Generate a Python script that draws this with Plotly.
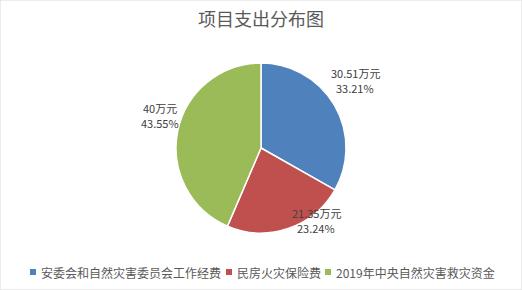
import plotly.graph_objects as go

categories = ["安委会和自然灾害委员会工作经费", "民房火灾保险费", "2019年中央自然灾害救灾资金"]
values = [30.51, 21.35, 40]
value_labels = ["30.51万元", "21.35万元", "40万元"]
percent_labels = ["33.21%", "23.24%", "43.55%"]
colors = ["#4F81BD", "#C0504D", "#9BBB59"]

W, H = 522, 290
font_family = "Noto Sans CJK SC, Microsoft YaHei, sans-serif"

fig = go.Figure(go.Pie(
    labels=categories,
    values=values,
    sort=False,
    direction="clockwise",
    rotation=0,
    marker=dict(colors=colors, line=dict(color="white", width=1.5)),
    textinfo="none",
    hoverinfo="label+value+percent",
    showlegend=False,
    domain=dict(x=[176 / W, 346 / W], y=[1 - 233 / H, 1 - 63 / H]),
))

# data labels (two lines each)
label_pos = [(355, 80), (316, 220), (160, 115)]
for (x, y), v, p in zip(label_pos, value_labels, percent_labels):
    for txt, dy in ((v, -7), (p, 8)):
        fig.add_annotation(
            x=x / W, y=1 - (y + dy) / H, xref="paper", yref="paper",
            xanchor="center", yanchor="middle",
            text=txt, showarrow=False,
            font=dict(size=11, color="#404040", family=font_family),
        )

# custom legend
legend_sq_x = [30, 226, 325]
legend_y = 272
for sx, name, c in zip(legend_sq_x, categories, colors):
    fig.add_shape(type="rect", xref="paper", yref="paper",
                  x0=sx / W, x1=(sx + 6) / W,
                  y0=1 - (legend_y + 3) / H, y1=1 - (legend_y - 3) / H,
                  fillcolor=c, line=dict(width=0))
    fig.add_annotation(x=(sx + 9) / W, y=1 - legend_y / H, xref="paper", yref="paper",
                       xanchor="left", yanchor="middle", showarrow=False,
                       text=name, font=dict(size=12, color="#595959", family=font_family))

fig.add_shape(type="rect", xref="paper", yref="paper", x0=0, y0=0, x1=1, y1=1,
              line=dict(color="#D9D9D9", width=1))

fig.update_layout(
    width=W, height=H,
    margin=dict(l=0, r=0, t=0, b=0),
    paper_bgcolor="white",
    plot_bgcolor="white",
    showlegend=False,
    title=dict(text="项目支出分布图", x=0.5, xanchor="center", y=1 - 20 / H, yanchor="middle",
               font=dict(size=18, color="#595959", family=font_family)),
    font=dict(family=font_family),
)

fig.write_html("out.html")
